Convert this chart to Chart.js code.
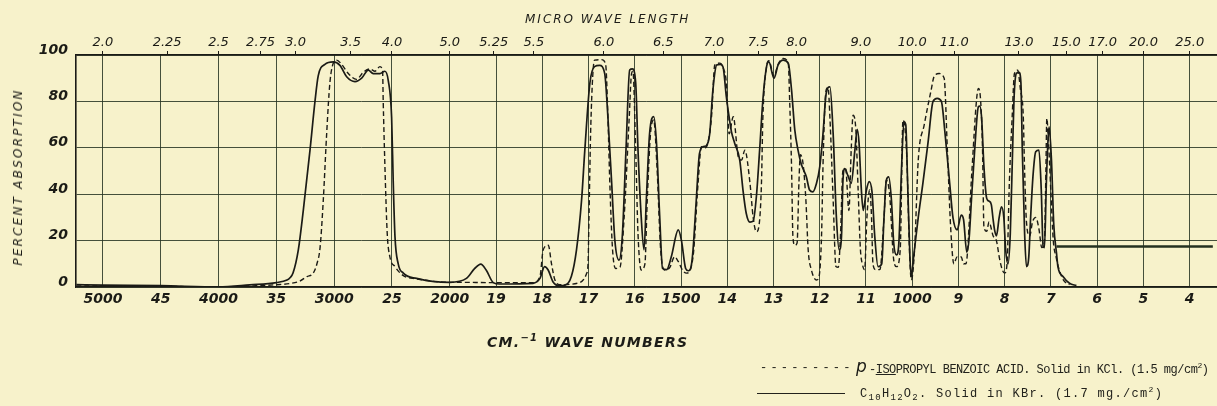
<!DOCTYPE html>
<html><head><meta charset="utf-8">
<script src="https://cdn.jsdelivr.net/npm/chart.js@4/dist/chart.umd.min.js"></script>
<style>
html,body{margin:0;padding:0;background:#f7f2cb;}
#wrap{position:relative;width:1217px;height:406px;overflow:hidden;background:#f7f2cb;}
#c{position:absolute;left:0;top:0;}
.t{position:absolute;color:#1d1d18;font-family:"DejaVu Sans",sans-serif;font-style:italic;white-space:nowrap;line-height:1;}
.tw{position:absolute;color:#22221c;font-family:"Liberation Mono","DejaVu Sans Mono",monospace;font-size:12px;letter-spacing:-0.5px;white-space:nowrap;line-height:1;}
</style></head>
<body>
<div id="wrap">
<canvas id="c" width="1217" height="406"></canvas>
<div class="t" style="left:525px;top:13px;font-size:12px;letter-spacing:2px;">MICRO WAVE LENGTH</div>
<div class="t" style="left:18px;top:177px;font-size:12px;letter-spacing:2.2px;transform:translate(-50%,-50%) rotate(-90deg);">PERCENT ABSORPTION</div>
<div class="t" style="left:487px;top:333px;font-size:14px;font-weight:bold;letter-spacing:1.3px;">CM.<span style="font-size:10px;vertical-align:6px;">−1</span> WAVE NUMBERS</div>
<div class="tw" style="left:760px;top:362px;letter-spacing:3.2px;">---------</div>
<div class="t" style="left:856px;top:358px;font-size:17px;">p</div>
<div class="tw" style="left:869px;top:362px;">-<u>ISO</u>PROPYL BENZOIC ACID. Solid in KCl. (1.5 mg/cm<sup style="font-size:8px;">2</sup>)</div>
<div style="position:absolute;left:757px;top:393px;width:88px;height:0;border-top:1.5px solid #22221c;"></div>
<div class="tw" style="left:860px;top:386px;letter-spacing:1.3px;">C<sub style="font-size:9px;">10</sub>H<sub style="font-size:9px;">12</sub>O<sub style="font-size:9px;">2</sub>. Solid in KBr. (1.7 mg./cm<sup style="font-size:8px;">2</sup>)</div>
</div>
<script>
// ---- data (wavenumber cm-1, percent absorption) ----
const solidWavenumbers = [5230,5000,4500,4000,3730,3500,3408,3382,3356,3310,3267,3209,3166,3138,3080,3008,2950,2892,2820,2762,2705,2662,2604,2561,2532,2503,2489,2474,2446,2402,2287,2000,
1964,1946,1933,1921,1906,1892,1820,1805,1795,1787,1777,1762,1751,1737,1726,1715,1708,1697,1687,1676,1665,1658,1650,1643,1634,1627,1619,1611,1605,1598,1593,1586,1580,1575,1568,1559,1553,1546,1540,1531,1521,1506,1499,1490,1484,1478,1474,1467,1460,1452,1445,1438,1431,1423,1415,1409,1402,1398,1391,1384,1373,1366,1359,1351,1344,1337,1330,1323,1315,1310,1299,1290,1279,1268,1261,1254,1247,1240,1229,1222,1215,1207,1200,1193,1186,1178,1171,1164,1158,1153,1150,1146,1139,1132,1124,1119,1115,1110,1106,1099,1093,1087,1081,1074,1066,1061,1056,1051,1045,1040,1034,1029,1023,1018,1014,1010,1005,1002,997,987,977,966,955,946,937,929,919,912,903,894,889,882,877,872,865,857,854,850,845,839,834,829,825,822,818,812,807,802,798,793,788,783,780,775,769,765,762,757,753,748,744,739,733,726,721,717,714,710,706,704,699,694,688,685,674,660,645];
const solidAbsorption = [1.0,0.8,0.6,0.0,0.9,1.9,3,4,6,16,33,59,80,91,96,97,95.5,90.6,88.5,90,93.5,92,92,93,89,73,45,21.7,10,6,3.7,2,
3.7,8,9.9,7.2,1.9,1.3,1.6,3.7,8.8,7.2,2.3,0.5,0.8,4.6,16,37.5,59,88,95,95.5,92,73,45,20,11.6,21.7,59,93.5,94,88,59,30,16,37.5,66,73.4,62,30,8,7.5,13,24.6,20,8,7,9,16,37.5,57.6,60.5,61,66,85,95.7,96,94.7,82,76,67,62,54.7,41.8,31.8,28,28.4,39,59,80.6,95,97,90,95.7,97.8,96.4,85,67.7,59,53,47.5,41.8,41,44.7,51.8,66,83.5,86.3,66,30,16,21.7,45,51,48,44.7,59,68,62,41.8,33,41.8,45.4,41,21.7,8.8,10,30,46,47.5,37.5,18.8,13.8,18.8,51.8,71.2,70,45,13,4.5,13,30,44.7,62,80,81.3,80,66,44.7,30,24.6,31,29,15,21,37.5,59,77.7,78,73,52,38.2,37,35.5,28.9,24.6,22,30,34.6,30,16,10,23,59,80.6,92,92.5,88,59,23,8.8,13,30,47.6,58.3,59,41.8,17.4,17,45,64.8,69,55,27,14.5,8.8,4.5,1.6,0.6];

const dashedWavenumbers = [5230,5000,4500,4000,3700,3495,3382,3300,3235,3181,3149,3122,3094,3065,3037,3008,2979,2935,2878,2806,2749,2690,2647,2604,2581,2576,2561,2541,2518,2474,2405,2287,2000,
1964,1921,1892,1820,1805,1798,1787,1780,1773,1762,1719,1704,1701,1699,1695,1687,1672,1663,1658,1654,1648,1641,1632,1623,1612,1607,1604,1598,1593,1586,1578,1573,1566,1559,1552,1544,1535,1524,1514,1506,1496,1488,1474,1463,1456,1449,1442,1434,1427,1416,1408,1402,1396,1387,1376,1369,1362,1351,1344,1337,1331,1326,1323,1315,1310,1299,1290,1279,1268,1265,1261,1258,1254,1249,1245,1242,1236,1230,1225,1218,1207,1202,1196,1193,1189,1186,1182,1178,1171,1165,1160,1155,1150,1144,1137,1132,1128,1122,1117,1112,1108,1103,1098,1092,1088,1085,1079,1070,1061,1056,1049,1040,1034,1026,1020,1012,1006,1002,995,987,974,959,953,942,931,924,917,910,903,894,889,884,871,861,857,852,848,845,839,834,825,818,811,805,800,795,790,784,779,772,766,760,757,753,746,740,733,726,720,714,711,709,706,700,695,689,683,673,660];
const dashedAbsorption = [0.5,0.4,0.3,0,0.5,1,1.5,2.5,4.5,6,10,17,37.5,66,88,96.4,97.8,96,92,89.5,92.5,94,93,95,93,80.6,52,23,13,8.8,5,3.5,2,
2,1.9,1.9,1.9,4.5,16,18,10,3.2,1,1.9,5.9,10,30,70,97.8,98,96,73,45,16,8,8.5,30,73,92,93,59,23,7.3,10,37.5,66,72,52,16,7.3,8.5,13,11,7,6,13,45,60.5,60,62,73.4,95.7,96.5,94,88,66,73.4,56,54.7,59,45,30,23.8,27,45,73,95,97.5,91,96,98.5,96.4,80,52,21.7,18,19,45,57,53,37.5,16,7.3,3,4,23,52,77.7,85,86,73,37.5,8.8,8.5,23,50,51,33,59,74,68,41.8,16,10,7.5,30,41.8,30,10,7.5,7.5,30,46,40,11.6,8.8,16,72,57,16,3,16,54.7,70,85,90.6,92,90,59,26,10,13,13,10,10,50,80.6,85.6,80,59,26,24,28,22,20,12,7.3,6,10,45,73,92,93.5,85,74,50,28,22,28,30,25,17,20,50,72.7,65,40,20,13,8,3,1];

const traceWavenumbers = [688, 350];
const traceAbsorption = [17.5, 17.5];

const gridWavenumbers = [5000,4500,4000,3500,3000,2500,2000,1900,1800,1700,1600,1500,1400,1300,1200,1100,1000,900,800,700,600,500,400];
const bottomTickLabels = ["5000","45","4000","35","3000","25","2000","19","18","17","16","1500","14","13","12","11","1000","9","8","7","6","5","4"];
const micronValues = [2.0,2.25,2.5,2.75,3.0,3.5,4.0,5.0,5.25,5.5,6.0,6.5,7.0,7.5,8.0,9.0,10.0,11.0,13.0,15.0,17.0,20.0,25.0];
const micronLabels = ["2.0","2.25","2.5","2.75","3.0","3.5","4.0","5.0","5.25","5.5","6.0","6.5","7.0","7.5","8.0","9.0","10.0","11.0","13.0","15.0","17.0","20.0","25.0"];
const percentTicks = [0,20,40,60,80,100];

// chart paper: 4x compressed wavenumber scale above 2000 cm-1
const U = v => v >= 2000 ? (5000 - v) / 4 : 750 + (2000 - v);
const X_MIN = U(5233), X_MAX = U(341);
const pts = (xs, ys) => xs.map((v, i) => ({x: U(v), y: ys[i]}));

const INK = '#1b1b16';
const GRID = 'rgba(38,52,34,0.85)';
const tickFont = {family: '"DejaVu Sans", sans-serif', size: 14, style: 'italic', weight: 'bold'};
const topFont = {family: '"DejaVu Sans", sans-serif', size: 13, style: 'italic'};

new Chart(document.getElementById('c'), {
  type: 'line',
  data: {datasets: [
    {label: 'p-ISOPROPYL BENZOIC ACID', data: pts(dashedWavenumbers, dashedAbsorption), borderColor: INK, borderWidth: 1.4, borderDash: [5, 3], pointRadius: 0, cubicInterpolationMode: 'monotone', fill: false},
    {label: 'C10H12O2', data: pts(solidWavenumbers, solidAbsorption), borderColor: INK, borderWidth: 1.7, pointRadius: 0, cubicInterpolationMode: 'monotone', fill: false},
    {label: 'trace', data: pts(traceWavenumbers, traceAbsorption), borderColor: '#23301f', borderWidth: 2.5, pointRadius: 0, fill: false}
  ]},
  options: {
    responsive: false, animation: false, devicePixelRatio: 1,
    layout: {padding: 0},
    plugins: {legend: {display: false}, tooltip: {enabled: false}},
    scales: {
      x: {type: 'linear', position: 'bottom', min: X_MIN, max: X_MAX,
        afterBuildTicks: s => { s.ticks = gridWavenumbers.map(v => ({value: U(v)})); },
        afterFit: s => { s.height = 119; },
        ticks: {autoSkip: false, maxRotation: 0, padding: 4, color: INK, font: tickFont, callback: (v, i) => bottomTickLabels[i]},
        grid: {color: GRID, lineWidth: 1, drawTicks: false},
        border: {display: true, color: INK, width: 1.6}},
      xTop: {type: 'linear', position: 'top', min: X_MIN, max: X_MAX,
        afterBuildTicks: s => { s.ticks = micronValues.map(m => ({value: U(10000 / m)})); },
        afterFit: s => { s.height = 55; },
        ticks: {autoSkip: false, maxRotation: 0, padding: 1, color: INK, font: topFont, callback: (v, i) => micronLabels[i]},
        grid: {drawOnChartArea: false, drawTicks: true, tickLength: 4, color: INK},
        border: {display: true, color: INK, width: 1.4}},
      y: {min: 0, max: 100,
        afterBuildTicks: s => { s.ticks = percentTicks.map(v => ({value: v})); },
        afterFit: s => { s.width = 76; },
        ticks: {padding: 8, labelOffset: -5, color: INK, font: tickFont},
        grid: {color: GRID, lineWidth: 1, drawTicks: false},
        border: {display: true, color: INK, width: 1.6}}
    }
  }
});
</script>
</body></html>
